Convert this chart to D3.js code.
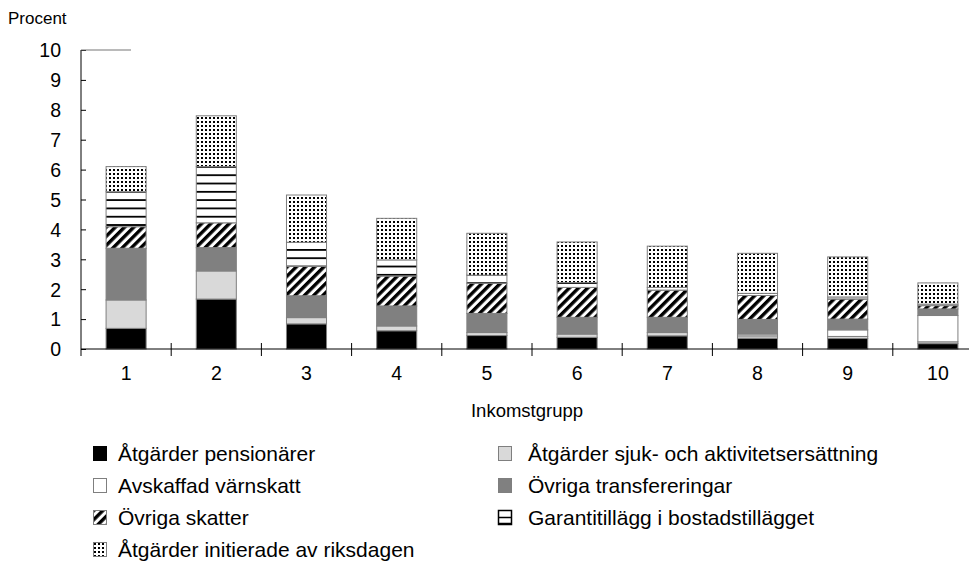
<!DOCTYPE html>
<html><head><meta charset="utf-8">
<script src="https://cdn.jsdelivr.net/npm/d3@7"></script>
<style>body{margin:0;background:#fff}svg{display:block}text{font-family:"Liberation Sans",Arial,sans-serif;fill:#000}</style>
</head><body>
<script>
const categories = ["1","2","3","4","5","6","7","8","9","10"];
const pensionarer = [0.69,1.67,0.84,0.61,0.45,0.39,0.44,0.36,0.35,0.18];
const sjukAktivitet = [0.95,0.94,0.21,0.16,0.10,0.11,0.11,0.08,0.07,0.06];
const varnskatt = [0,0,0,0,0,0,0,0.06,0.22,0.88];
const ovrigaTransfereringar = [1.73,0.78,0.73,0.67,0.64,0.56,0.51,0.49,0.36,0.22];
const ovrigaSkatter = [0.72,0.83,0.98,1.00,1.01,1.00,0.91,0.80,0.67,0.11];
const garantitillagg = [1.17,1.88,0.81,0.54,0.27,0.16,0.09,0.07,0.07,0.05];
const riksdagen = [0.84,1.70,1.58,1.39,1.40,1.36,1.38,1.34,1.34,0.71];
const yTicks = [0,1,2,3,4,5,6,7,8,9,10];
const seriesNames = ["Åtgärder pensionärer","Åtgärder sjuk- och aktivitetsersättning","Avskaffad värnskatt","Övriga transfereringar","Övriga skatter","Garantitillägg i bostadstillägget","Åtgärder initierade av riksdagen"];
const seriesData = [pensionarer,sjukAktivitet,varnskatt,ovrigaTransfereringar,ovrigaSkatter,garantitillagg,riksdagen];

const W=969,H=563;
const svg=d3.select("body").append("svg").attr("width",W).attr("height",H);
const defs=svg.append("defs");
// dots
const pd=defs.append("pattern").attr("id","dots").attr("patternUnits","userSpaceOnUse").attr("width",4).attr("height",4);
pd.append("rect").attr("width",4).attr("height",4).attr("fill","#fff");
pd.append("rect").attr("x",1).attr("y",1).attr("width",2).attr("height",2).attr("fill","#000");
// hatch
const ph=defs.append("pattern").attr("id","hatch").attr("patternUnits","userSpaceOnUse").attr("width",6.5).attr("height",6.5).attr("patternTransform","rotate(45)");
ph.append("rect").attr("width",6.5).attr("height",6.5).attr("fill","#fff");
ph.append("rect").attr("width",3.4).attr("height",6.5).attr("fill","#000");
// horizontal lines
const pl=defs.append("pattern").attr("id","hlines").attr("patternUnits","userSpaceOnUse").attr("width",8).attr("height",8.3);
pl.append("rect").attr("width",8).attr("height",8.3).attr("fill","#fff");
pl.append("rect").attr("y",0).attr("width",8).attr("height",1.8).attr("fill","#000");

const fills=["#000000","#d9d9d9","#ffffff","#808080","url(#hatch)","url(#hlines)","url(#dots)"];

const x0=81,x1=983,yTop=50,yBot=349;
const x=d3.scaleBand().domain(categories).range([x0,x1]).paddingInner(0.556).paddingOuter(0.278);
const y=d3.scaleLinear().domain([0,10]).range([yBot,yTop]);

const stackData=categories.map((c,i)=>{const o={cat:c};seriesData.forEach((s,k)=>o["s"+k]=s[i]);return o;});
const stack=d3.stack().keys(seriesData.map((s,k)=>"s"+k))(stackData);

const g=svg.append("g");
stack.forEach((layer,k)=>{
  g.selectAll(null).data(layer.filter(d=>d[1]-d[0]>0)).enter().append("rect")
   .attr("x",d=>x(d.data.cat)).attr("width",x.bandwidth())
   .attr("y",d=>y(d[1])).attr("height",d=>y(d[0])-y(d[1]))
   .attr("fill",fills[k]).attr("stroke","#7f7f7f").attr("stroke-width",1);
});

// y axis
const ya=svg.append("g").attr("transform",`translate(${x0},0)`)
  .call(d3.axisLeft(y).tickValues(yTicks).tickSize(-5).tickPadding(20).tickFormat(d3.format("d")));
ya.select(".domain").remove();
ya.selectAll(".tick line").attr("stroke","#000");
ya.selectAll("text").style("font-size","19.5px").attr("dy","0.35em");
svg.append("line").attr("x1",x0).attr("x2",x0).attr("y1",yTop).attr("y2",yBot+7).attr("stroke","#000");
svg.append("line").attr("x1",x0).attr("x2",x0+50).attr("y1",yTop).attr("y2",yTop).attr("stroke","#777").attr("stroke-width",1.2);

// x axis
svg.append("line").attr("x1",x0).attr("x2",x1).attr("y1",yBot).attr("y2",yBot).attr("stroke","#000");
categories.slice(0,-1).forEach(c=>{
  const bx=x(c)+x.bandwidth()+(x.step()-x.bandwidth())/2;
  svg.append("line").attr("x1",bx).attr("x2",bx).attr("y1",yBot-6).attr("y2",yBot+7).attr("stroke","#000");
});
const xa=svg.append("g").attr("transform",`translate(0,${yBot})`).call(d3.axisBottom(x).tickSize(0).tickPadding(17));
xa.select(".domain").remove();
xa.selectAll("text").style("font-size","19.5px");

svg.append("text").attr("x",8).attr("y",24).style("font-size","17px").text("Procent");
svg.append("text").attr("x",527).attr("y",417).attr("text-anchor","middle").style("font-size","18.5px").text("Inkomstgrupp");

// legend
const legX=[93,498],legTX=[118,528],legY=[454,486,518,550];
seriesNames.forEach((n,k)=>{
  const col=k%2,lx=legX[col],ly=legY[Math.floor(k/2)];
  const lg=svg.append("g").attr("transform",`translate(${lx},${ly})`);
  if(k===5){
    lg.append("rect").attr("x",0.5).attr("y",-7.5).attr("width",13).attr("height",14).attr("fill","#fff").attr("stroke","#000").attr("stroke-width",1.5);
    lg.append("line").attr("x1",0.5).attr("x2",13.5).attr("y1",-0.5).attr("y2",-0.5).attr("stroke","#000").attr("stroke-width",1.5);
    lg.append("line").attr("x1",0.5).attr("x2",13.5).attr("y1",5.5).attr("y2",5.5).attr("stroke","#000").attr("stroke-width",1.5);
  } else {
    lg.append("rect").attr("x",0.5).attr("y",-7.5).attr("width",13).attr("height",14).attr("fill",fills[k]).attr("stroke",k===0?"#000":"#7f7f7f");
  }
  lg.append("text").attr("x",legTX[col]-lx).attr("y",0).attr("dy","0.35em").style("font-size","21px").text(n);
});
</script>
</body></html>
